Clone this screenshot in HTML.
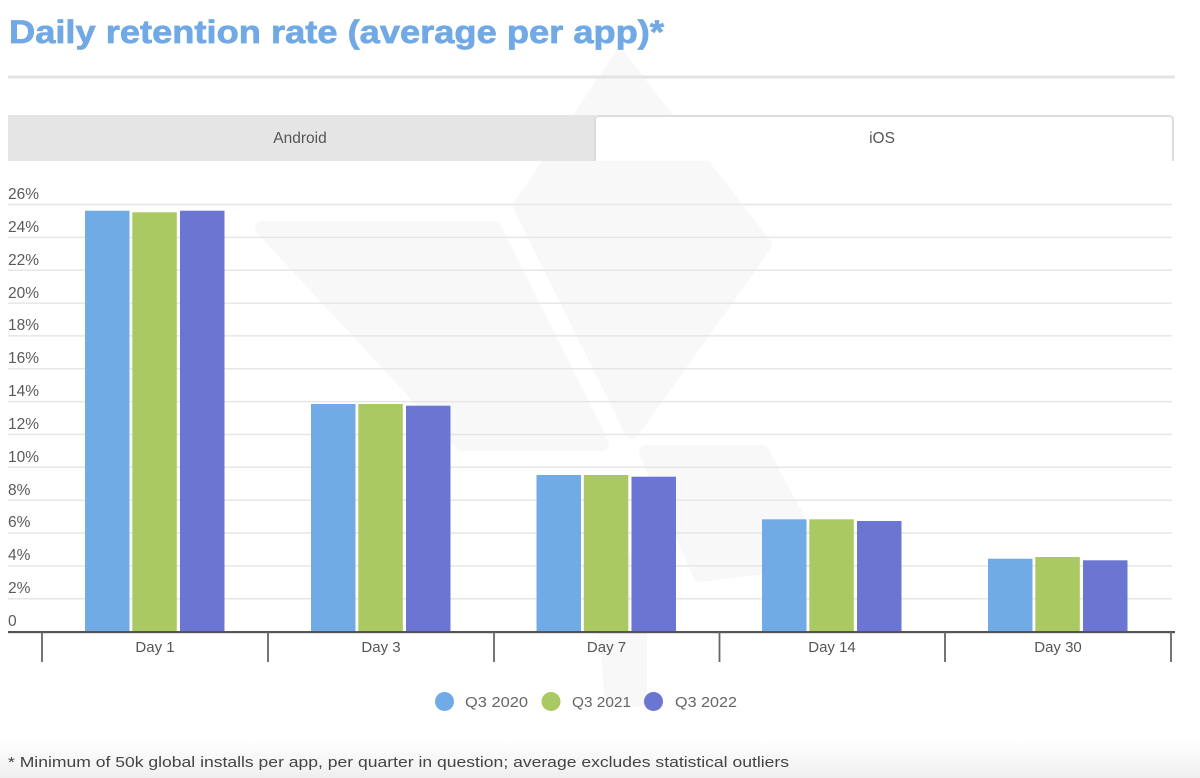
<!DOCTYPE html>
<html>
<head>
<meta charset="utf-8">
<style>
  html, body { margin: 0; padding: 0; background: #ffffff; }
  body { width: 1200px; height: 778px; overflow: hidden; }
  svg { display: block; }
  text { font-family: "Liberation Sans", "DejaVu Sans", sans-serif; }
</style>
</head>
<body>
<svg width="1200" height="778" viewBox="0 0 1200 778" xmlns="http://www.w3.org/2000/svg">
  <defs>
    <linearGradient id="bot" x1="0" y1="0" x2="0" y2="1">
      <stop offset="0" stop-color="#ffffff"/>
      <stop offset="1" stop-color="#efefef"/>
    </linearGradient>
  </defs>
  <rect x="0" y="0" width="1200" height="778" fill="#ffffff"/>
  <rect x="0" y="740" width="1200" height="38" fill="url(#bot)"/>

  <!-- watermark -->
  <g fill="#f8f8f8" stroke="#f8f8f8" stroke-width="14" stroke-linejoin="round">
    <polygon points="620,58 765,245 632,432 520,206"/>
    <polygon points="262,228 494,228 602,444 462,444"/>
    <polygon points="646,452 762,452 820,560 700,575"/>
    <polygon points="600,560 640,560 640,700 612,700"/>
  </g>

  <!-- title -->
  <text x="9" y="43" font-size="32" font-weight="bold" fill="#71a9e5" stroke="#71a9e5" stroke-width="0.7" textLength="655" lengthAdjust="spacingAndGlyphs">Daily retention rate (average per app)*</text>

  <!-- rule -->
  <rect x="8" y="75.5" width="1167" height="3" fill="#e3e3e3"/>

  <!-- tabs -->
  <rect x="8" y="115" width="587" height="46" fill="#e5e5e5"/>
  <path d="M595,161 L595,120 Q595,116 599,116 L1169,116 Q1173,116 1173,120 L1173,161" fill="#ffffff" stroke="#dcdcdc" stroke-width="2"/>
  <text x="300" y="143" font-size="15.5" fill="#555" text-anchor="middle">Android</text>
  <text x="882" y="143" font-size="15.5" fill="#555" text-anchor="middle">iOS</text>

  <!-- gridlines -->
  <g stroke="#e6e6e6" stroke-width="1.5">
    <line x1="8" x2="1172" y1="204.5" y2="204.5"/>
    <line x1="8" x2="1172" y1="237.4" y2="237.4"/>
    <line x1="8" x2="1172" y1="270.2" y2="270.2"/>
    <line x1="8" x2="1172" y1="303.1" y2="303.1"/>
    <line x1="8" x2="1172" y1="335.9" y2="335.9"/>
    <line x1="8" x2="1172" y1="368.8" y2="368.8"/>
    <line x1="8" x2="1172" y1="401.6" y2="401.6"/>
    <line x1="8" x2="1172" y1="434.5" y2="434.5"/>
    <line x1="8" x2="1172" y1="467.3" y2="467.3"/>
    <line x1="8" x2="1172" y1="500.2" y2="500.2"/>
    <line x1="8" x2="1172" y1="533.0" y2="533.0"/>
    <line x1="8" x2="1172" y1="565.9" y2="565.9"/>
    <line x1="8" x2="1172" y1="598.7" y2="598.7"/>
  </g>

  <!-- y labels -->
  <g font-size="15.5" fill="#5a5a5a">
    <text x="8" y="199">26%</text>
    <text x="8" y="232">24%</text>
    <text x="8" y="265">22%</text>
    <text x="8" y="298">20%</text>
    <text x="8" y="330">18%</text>
    <text x="8" y="363">16%</text>
    <text x="8" y="396">14%</text>
    <text x="8" y="429">12%</text>
    <text x="8" y="462">10%</text>
    <text x="8" y="495">8%</text>
    <text x="8" y="527">6%</text>
    <text x="8" y="560">4%</text>
    <text x="8" y="593">2%</text>
    <text x="8" y="626">0</text>
  </g>

  <!-- bars -->
  <g>
    <rect x="85" y="210.7" width="44.5" height="420.8" fill="#71abe6"/>
    <rect x="132.3" y="212.3" width="44.5" height="419.2" fill="#abc963"/>
    <rect x="180" y="210.7" width="44.5" height="420.8" fill="#6b76d3"/>
    <rect x="311" y="404" width="44.5" height="227.5" fill="#71abe6"/>
    <rect x="358.3" y="404" width="44.5" height="227.5" fill="#abc963"/>
    <rect x="406" y="405.7" width="44.5" height="225.8" fill="#6b76d3"/>
    <rect x="536.5" y="475" width="44.5" height="156.5" fill="#71abe6"/>
    <rect x="583.8" y="475" width="44.5" height="156.5" fill="#abc963"/>
    <rect x="631.5" y="476.7" width="44.5" height="154.8" fill="#6b76d3"/>
    <rect x="762" y="519.3" width="44.5" height="112.2" fill="#71abe6"/>
    <rect x="809.3" y="519.3" width="44.5" height="112.2" fill="#abc963"/>
    <rect x="857" y="521" width="44.5" height="110.5" fill="#6b76d3"/>
    <rect x="988" y="558.7" width="44.5" height="72.8" fill="#71abe6"/>
    <rect x="1035.3" y="557" width="44.5" height="74.5" fill="#abc963"/>
    <rect x="1083" y="560.3" width="44.5" height="71.2" fill="#6b76d3"/>
  </g>

  <!-- axis -->
  <rect x="8" y="631" width="1167" height="2.2" fill="#555"/>
  <g stroke="#666" stroke-width="1.8">
    <line x1="42" x2="42" y1="632" y2="662"/>
    <line x1="268" x2="268" y1="632" y2="662"/>
    <line x1="494" x2="494" y1="632" y2="662"/>
    <line x1="719.5" x2="719.5" y1="632" y2="662"/>
    <line x1="945" x2="945" y1="632" y2="662"/>
    <line x1="1171" x2="1171" y1="632" y2="662"/>
  </g>
  <g font-size="15" fill="#555" text-anchor="middle">
    <text x="155" y="652">Day 1</text>
    <text x="381" y="652">Day 3</text>
    <text x="606.5" y="652">Day 7</text>
    <text x="832" y="652">Day 14</text>
    <text x="1058" y="652">Day 30</text>
  </g>

  <!-- legend -->
  <circle cx="444.5" cy="701.5" r="9.5" fill="#71abe6"/>
  <circle cx="551" cy="701.5" r="9.5" fill="#abc963"/>
  <circle cx="653.5" cy="701.5" r="9.5" fill="#6b76d3"/>
  <g font-size="15" fill="#666">
    <text x="465" y="707" textLength="63" lengthAdjust="spacingAndGlyphs">Q3 2020</text>
    <text x="572" y="707" textLength="59" lengthAdjust="spacingAndGlyphs">Q3 2021</text>
    <text x="675" y="707" textLength="62" lengthAdjust="spacingAndGlyphs">Q3 2022</text>
  </g>

  <!-- footnote -->
  <text x="8" y="767" font-size="14.5" fill="#444" textLength="781" lengthAdjust="spacingAndGlyphs">* Minimum of 50k global installs per app, per quarter in question; average excludes statistical outliers</text>
</svg>
</body>
</html>
